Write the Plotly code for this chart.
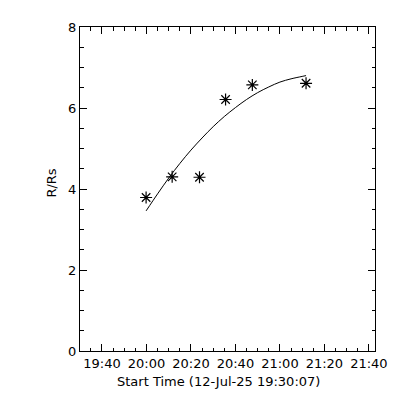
import plotly.graph_objects as go

# Observed data points (time, R/Rs)
obs_times = ["2025-07-12 19:59:50", "2025-07-12 20:11:33", "2025-07-12 20:23:51",
             "2025-07-12 20:35:34", "2025-07-12 20:47:36", "2025-07-12 21:11:45"]
obs_values = [3.79, 4.30, 4.29, 6.21, 6.57, 6.61]

# Fitted curve
fit_times = ["2025-07-12 19:59:50", "2025-07-12 20:05:00", "2025-07-12 20:10:00",
             "2025-07-12 20:15:00", "2025-07-12 20:20:00", "2025-07-12 20:25:00",
             "2025-07-12 20:30:00", "2025-07-12 20:35:00", "2025-07-12 20:40:00",
             "2025-07-12 20:45:00", "2025-07-12 20:50:00", "2025-07-12 20:55:00",
             "2025-07-12 21:00:00", "2025-07-12 21:05:00", "2025-07-12 21:10:00",
             "2025-07-12 21:11:45"]
fit_values = [3.46, 3.88, 4.27, 4.63, 4.96, 5.26, 5.54, 5.79, 6.01, 6.21,
              6.38, 6.52, 6.64, 6.72, 6.78, 6.80]

x_range = ["2025-07-12 19:30:07", "2025-07-12 21:42:45"]
y_range = [0, 8]
x_title = "Start Time (12-Jul-25 19:30:07)"
y_title = "R/Rs"

FONT = "DejaVu Sans"
FS = 13

fig = go.Figure()
fig.add_trace(go.Scatter(x=fit_times, y=fit_values, mode="lines",
                         line=dict(color="black", width=1, shape="spline"),
                         showlegend=False, hoverinfo="skip"))
fig.add_trace(go.Scatter(x=obs_times, y=obs_values, mode="markers",
                         marker=dict(symbol="asterisk-open", size=10,
                                     line=dict(color="black", width=1.2),
                                     color="black"),
                         showlegend=False))

fig.update_layout(
    width=392, height=392,
    margin=dict(l=72, r=25, t=16, b=49),
    paper_bgcolor="white", plot_bgcolor="white",
    font=dict(family=FONT, size=FS, color="black"),
    xaxis=dict(
        type="date", range=x_range,
        tick0="2025-07-12 19:40:00", dtick=20 * 60 * 1000,
        tickformat="%H:%M", ticks="inside", ticklen=7, tickwidth=1,
        tickcolor="black", showline=True, linecolor="black", linewidth=1,
        mirror="ticks", showgrid=False, zeroline=False,
        minor=dict(dtick=5 * 60 * 1000, tick0="2025-07-12 19:40:00",
                   ticks="inside", ticklen=3.5, tickcolor="black", showgrid=False),
        tickfont=dict(family=FONT, size=FS, color="black"),
    ),
    yaxis=dict(
        range=y_range, tick0=0, dtick=2, ticks="inside", ticklen=7, tickwidth=1,
        tickcolor="black", showline=True, linecolor="black", linewidth=1,
        mirror="ticks", showgrid=False, zeroline=False,
        minor=dict(dtick=0.5, ticks="inside", ticklen=3.5, tickcolor="black",
                   showgrid=False),
        tickfont=dict(family=FONT, size=FS, color="black"),
    ),
    annotations=[
        dict(text=x_title, xref="paper", yref="paper", x=0.471, y=0,
             yshift=-30, showarrow=False, xanchor="center", yanchor="middle",
             font=dict(family=FONT, size=FS, color="black")),
        dict(text=y_title, xref="paper", yref="paper", x=-0.098, y=0.517,
             textangle=-90, showarrow=False, xanchor="center", yanchor="middle",
             font=dict(family=FONT, size=FS, color="black")),
    ],
)

fig.write_html("out.html")
